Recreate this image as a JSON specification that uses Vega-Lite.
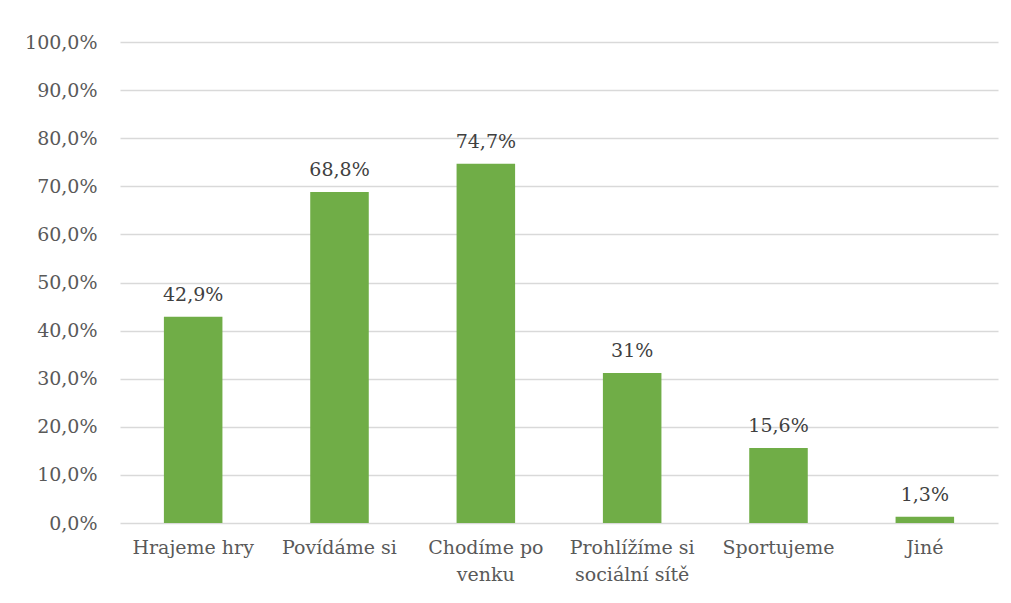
{
  "$schema": "https://vega.github.io/schema/vega-lite/v6.json",
  "autosize": "none",
  "width": 878,
  "height": 481,
  "padding": {"left": 120, "top": 42, "right": 13, "bottom": 80},
  "background": "white",
  "config": {
    "view": {"stroke": null},
    "font": "DejaVu Serif"
  },
  "data": {
    "values": [
      {"category": "Hrajeme hry", "value": 42.9, "text": "42,9%"},
      {"category": "Povídáme si", "value": 68.8, "text": "68,8%"},
      {"category": "Chodíme po\nvenku", "value": 74.7, "text": "74,7%"},
      {"category": "Prohlížíme si\nsociální sítě", "value": 31.2, "text": "31%"},
      {"category": "Sportujeme", "value": 15.6, "text": "15,6%"},
      {"category": "Jiné", "value": 1.3, "text": "1,3%"}
    ]
  },
  "encoding": {
    "x": {
      "field": "category",
      "type": "nominal",
      "sort": null,
      "scale": {"paddingInner": 0.6, "paddingOuter": 0.3},
      "axis": {
        "title": null,
        "labelAngle": 0,
        "labelExpr": "split(datum.label, '\\n')",
        "labelFont": "DejaVu Serif",
        "labelFontSize": 19,
        "labelColor": "#595959",
        "labelPadding": 15,
        "labelLineHeight": 27,
        "ticks": false,
        "domain": false
      }
    },
    "y": {
      "field": "value",
      "type": "quantitative",
      "scale": {"domain": [0, 100], "nice": false},
      "axis": {
        "title": null,
        "values": [0, 10, 20, 30, 40, 50, 60, 70, 80, 90, 100],
        "labelExpr": "replace(format(datum.value, '.1f'), '.', ',') + '%'",
        "labelFont": "DejaVu Serif",
        "labelFontSize": 19,
        "labelColor": "#595959",
        "labelPadding": 23,
        "ticks": false,
        "domain": false,
        "grid": true,
        "gridColor": "#d9d9d9",
        "gridWidth": 1.3
      }
    }
  },
  "layer": [
    {"mark": {"type": "bar", "color": "#70ad47"}},
    {
      "mark": {
        "type": "text",
        "baseline": "bottom",
        "dy": -12,
        "font": "DejaVu Serif",
        "fontSize": 19,
        "color": "#404040"
      },
      "encoding": {"text": {"field": "text"}}
    }
  ]
}
